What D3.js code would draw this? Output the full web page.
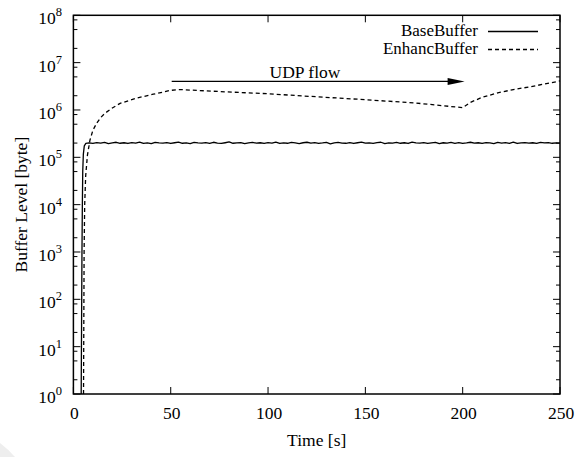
<!DOCTYPE html>
<html>
<head>
<meta charset="utf-8">
<script src="https://cdn.jsdelivr.net/npm/d3@7"></script>
<style>
  html, body { margin: 0; padding: 0; background: #fff; }
  svg { display: block; }
</style>
</head>
<body>
<svg id="chart" width="579" height="457"></svg>
<script>
// ---- data ----
const xTicks = [0, 50, 100, 150, 200, 250];
const yExponents = [0, 1, 2, 3, 4, 5, 6, 7, 8];
const yMinorMultipliers = [2, 5, 8];

// BaseBuffer: start-up ramp, then a steady level sampled every 2 s (values in kB)
const baseRampTime  = [4.0, 4.2, 4.4, 4.6, 4.8, 5.1, 5.6, 6.4];
const baseRampValue = [1, 30, 1e3, 1e4, 5e4, 1.15e5, 1.75e5, 1.97e5];
const baseSteadyStart = 8;
const baseSteadyStep = 2;
const baseSteadyKB = [
  201,197,204,199,206,195,202,208,198,203,
  196,205,200,210,197,202,194,207,201,199,
  205,196,203,209,198,201,195,206,202,199,
  204,197,208,200,196,203,211,198,202,205,
  194,201,207,199,203,197,204,200,209,196,
  202,198,206,201,195,203,208,199,204,197,
  201,206,193,202,207,200,198,205,196,203,
  210,199,201,197,204,208,195,202,200,206,
  198,203,196,209,201,199,205,197,202,207,
  194,203,200,206,198,204,196,201,208,199,
  203,197,205,202,195,207,200,204,198,210,
  196,202,205,199,203,197,206,201,204,198,
  202,200
];

// EnhancBuffer
const enhTime  = [5.2, 5.5, 5.8, 6.3, 7.2, 8.5, 10, 12, 14, 16.2, 20, 24, 32.5, 41, 50, 55,
                  75, 100, 125, 150, 176, 200, 204, 210, 218, 226, 235, 243, 250];
const enhValue = [1, 1e3, 1e4, 4e4, 1.1e5, 2.3e5, 3.7e5, 5.3e5, 6.9e5, 8.5e5, 1.1e6, 1.38e6,
                  1.78e6, 2.15e6, 2.6e6, 2.7e6, 2.45e6, 2.2e6, 1.9e6, 1.65e6, 1.4e6, 1.12e6,
                  1.45e6, 1.85e6, 2.3e6, 2.7e6, 3.1e6, 3.6e6, 4.1e6];

// "UDP flow" annotation arrow (time range and level)
const udpLabel = "UDP flow";
const udpStart = 50.5;
const udpEnd = 201;
const udpLevel = 4.0e6;

const seriesNames = ["BaseBuffer", "EnhancBuffer"];

// ---- layout ----
const svg = d3.select("#chart");
const plotLeft = 73.4, plotRight = 560, plotTop = 15.3, plotBottom = 394;
const fontSize = 17.5;
const serif = "Liberation Serif";

const x = d3.scaleLinear().domain([0, 250]).range([plotLeft, plotRight]);
const y = d3.scaleLog().domain([1, 1e8]).range([plotBottom, plotTop]);

function label(px, py, str, anchor, size) {
  return svg.append("text")
    .attr("x", px).attr("y", py)
    .attr("text-anchor", anchor)
    .attr("font-family", serif)
    .attr("font-size", size || fontSize)
    .attr("fill", "#000")
    .text(str);
}

// faint corner shading at the lower left
svg.append("path")
  .attr("d", "M0,443 Q8,449 15,457 L0,457 Z")
  .attr("fill", "#eeeeee");

// build series
const base = baseRampTime.map((t, i) => [t, baseRampValue[i]])
  .concat(baseSteadyKB.map((v, i) => [baseSteadyStart + i * baseSteadyStep, v * 1000]));
const enh = enhTime.map((t, i) => [t, enhValue[i]]);

const line = d3.line().x(d => x(d[0])).y(d => y(d[1]));

const plot = svg.append("g");
plot.append("path").datum(base)
  .attr("d", line).attr("fill", "none")
  .attr("stroke", "#000").attr("stroke-width", 1.3).attr("stroke-linejoin", "round");
plot.append("path").datum(enh)
  .attr("d", line).attr("fill", "none")
  .attr("stroke", "#000").attr("stroke-width", 1.3).attr("stroke-dasharray", "4,3");

// ---- ticks ----
const tickG = svg.append("g").attr("stroke", "#000").attr("stroke-width", 1);
const majorLen = 7, minorLen = 4;
xTicks.forEach(t => {
  const px = x(t);
  tickG.append("line").attr("x1", px).attr("x2", px).attr("y1", plotBottom).attr("y2", plotBottom - majorLen);
  tickG.append("line").attr("x1", px).attr("x2", px).attr("y1", plotTop).attr("y2", plotTop + majorLen);
});
yExponents.forEach(e => {
  const py = y(Math.pow(10, e));
  tickG.append("line").attr("x1", plotLeft).attr("x2", plotLeft + majorLen).attr("y1", py).attr("y2", py);
  tickG.append("line").attr("x1", plotRight).attr("x2", plotRight - majorLen).attr("y1", py).attr("y2", py);
  if (e < 8) {
    yMinorMultipliers.forEach(m => {
      const pm = y(m * Math.pow(10, e));
      tickG.append("line").attr("x1", plotLeft).attr("x2", plotLeft + minorLen).attr("y1", pm).attr("y2", pm);
      tickG.append("line").attr("x1", plotRight).attr("x2", plotRight - minorLen).attr("y1", pm).attr("y2", pm);
    });
  }
});

// frame
svg.append("rect")
  .attr("x", plotLeft).attr("y", plotTop)
  .attr("width", plotRight - plotLeft).attr("height", plotBottom - plotTop)
  .attr("fill", "none").attr("stroke", "#000").attr("stroke-width", 1.5);

// ---- tick labels ----
xTicks.forEach(t => label(x(t) + 1, 419, t, "middle"));
yExponents.forEach(e => {
  const py = y(Math.pow(10, e));
  const tx = label(62, py + 9, null, "end");
  tx.append("tspan").text("10");
  tx.append("tspan").attr("dy", -8).attr("font-size", 12.5).text(e);
});

// axis titles
label(x(125), 446, "Time [s]", "middle");
label(0, 0, "Buffer Level [byte]", "middle")
  .attr("transform", `translate(27,${(plotTop + plotBottom) / 2}) rotate(-90)`);

// ---- legend ----
const legendRows = [36, 54];
seriesNames.forEach((name, i) => {
  label(478, legendRows[i], name, "end", 17);
  svg.append("line")
    .attr("x1", 488).attr("x2", 538)
    .attr("y1", legendRows[i] - 4.5).attr("y2", legendRows[i] - 4.5)
    .attr("stroke", "#000").attr("stroke-width", 1.3)
    .attr("stroke-dasharray", i === 1 ? "4,3" : null);
});

// ---- UDP flow arrow ----
const ay = y(udpLevel);
const ax0 = x(udpStart), ax1 = x(udpEnd);
const headLen = 17, headHalf = 3.5;
svg.append("line")
  .attr("x1", ax0).attr("x2", ax1 - headLen + 1)
  .attr("y1", ay).attr("y2", ay)
  .attr("stroke", "#000").attr("stroke-width", 1.3);
svg.append("path")
  .attr("d", `M${ax1},${ay} L${ax1 - headLen},${ay - headHalf} L${ax1 - headLen},${ay + headHalf} Z`)
  .attr("fill", "#000");
label(305, 78, udpLabel, "middle");
</script>
</body>
</html>
